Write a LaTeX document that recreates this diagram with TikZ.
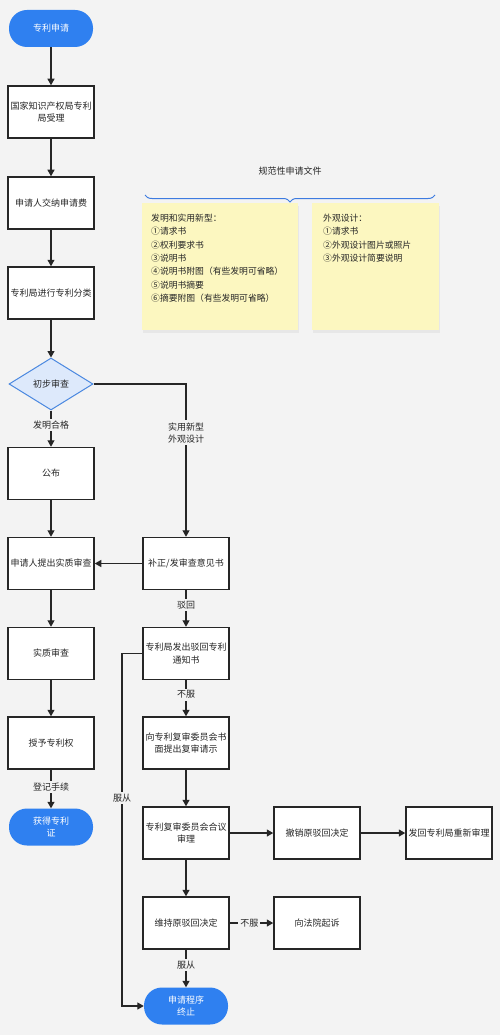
\documentclass[tikz,border=0pt]{standalone}
\usepackage{fontspec}
\setmainfont{Noto Sans CJK SC}
\usetikzlibrary{arrows.meta,shapes.geometric,decorations.pathreplacing,shadows}
\definecolor{bg}{HTML}{F3F3F3}
\definecolor{termblue}{HTML}{2F80F0}
\definecolor{diafill}{HTML}{DDE9FB}
\definecolor{diadraw}{HTML}{4A88E0}
\definecolor{notefill}{HTML}{FCF7C0}
\definecolor{bracecol}{HTML}{3D7BE0}
\begin{document}
\begin{tikzpicture}[x=1pt,y=-1pt,
  every node/.style={font=\fontsize{9}{12.5}\selectfont, text=black!85},
  box/.style={draw=black!85, line width=1.5pt, fill=white, minimum width=86pt, minimum height=52pt, inner sep=1pt, align=center},
  term/.style={fill=termblue, rounded corners=18pt, minimum width=84pt, minimum height=37pt, align=center, text=white, inner sep=1pt},
  dia/.style={diamond, draw=diadraw, line width=1pt, fill=diafill, aspect=1.6, minimum width=84pt, minimum height=52pt, inner sep=0pt},
  note/.style={fill=notefill, minimum height=127pt, inner sep=0pt, drop shadow={opacity=0.1, shadow xshift=1pt, shadow yshift=-3pt}},
  notetext/.style={font=\fontsize{8.8}{13.3}\selectfont, align=left, anchor=north west, inner sep=0pt},
  lab/.style={fill=bg, inner sep=2pt, align=center},
  arr/.style={draw=black!85, line width=1.2pt, -{Triangle[length=6.5pt,width=7pt]}},
  ln/.style={draw=black!85, line width=1.2pt}
]
\fill[bg] (0,0) rectangle (500,1035);
\useasboundingbox (0,0) rectangle (500,1035);

% left column
\node[term] (start) at (51,28.5) {专利申请};
\node[box] (b1) at (51,112) {国家知识产权局专利\\局受理};
\node[box] (b2) at (51,203) {申请人交纳申请费};
\node[box] (b3) at (51,293) {专利局进行专利分类};
\node[dia] (d) at (51,384) {初步审查};
\node[box] (pub) at (51,473.5) {公布};
\node[box] (sub) at (51,563.5) {申请人提出实质审查};
\node[box] (exam) at (51,653.5) {实质审查};
\node[box] (grant) at (51,743) {授予专利权};
\node[term] (cert) at (51,827) {获得专利\\证};

% right column
\node[box] (corr) at (186,563.5) {补正/发审查意见书};
\node[box] (rej) at (186,653.5) {专利局发出驳回专利\\通知书};
\node[box] (req) at (186,743) {向专利复审委员会书\\面提出复审请示};
\node[box] (hear) at (186,833) {专利复审委员会合议\\审理};
\node[box] (revoke) at (317,833) {撤销原驳回决定};
\node[box] (remand) at (449,833) {发回专利局重新审理};
\node[box] (keep) at (186,923) {维持原驳回决定};
\node[box] (court) at (317,923) {向法院起诉};
\node[term] (endt) at (186,1006) {申请程序\\终止};

% notes
\node (title) at (290,171) {规范性申请文件};
\coordinate (brL) at (145,195);
\coordinate (brR) at (435,195);
\draw[bracecol, line width=1pt, decorate, decoration={brace, amplitude=7pt, mirror}] (brL) -- (brR);
\node[note, minimum width=156pt, anchor=north west] (n1) at (142,203) {};
\node[note, minimum width=127pt, anchor=north west] (n2) at (312,203) {};
\node[notetext] (t1) at ([xshift=9pt,yshift=-11pt]n1.north west) {发明和实用新型：\\①请求书\\②权利要求书\\③说明书\\④说明书附图（有些发明可省略）\\⑤说明书摘要\\⑥摘要附图（有些发明可省略）};
\node[notetext] (t2) at ([xshift=11pt,yshift=-11pt]n2.north west) {外观设计：\\①请求书\\②外观设计图片或照片\\③外观设计简要说明};

% connectors
\draw[arr] (start) -- (b1);
\draw[arr] (b1) -- (b2);
\draw[arr] (b2) -- (b3);
\draw[arr] (b3) -- (d);
\draw[arr] (d) -- node[lab, pos=0.4] (l1) {发明合格} (pub);
\draw[arr] (d.east) -| node[lab, pos=0.66] (l2) {实用新型\\外观设计} (corr.north);
\draw[arr] (pub) -- (sub);
\draw[arr] (corr) -- (sub);
\draw[arr] (sub) -- (exam);
\draw[arr] (exam) -- (grant);
\draw[arr] (grant) -- node[lab, pos=0.45] (l3) {登记手续} (cert);
\draw[arr] (corr) -- node[lab, pos=0.4] (l4) {驳回} (rej);
\draw[arr] (rej) -- node[lab, pos=0.4] (l5) {不服} (req);
\draw[arr] (req) -- (hear);
\draw[arr] (hear) -- (revoke);
\draw[arr] (revoke) -- (remand);
\draw[arr] (hear) -- (keep);
\draw[arr] (keep) -- node[lab, pos=0.45] (l6) {不服} (court);
\draw[arr] (keep) -- node[lab, pos=0.4] (l7) {服从} (endt);
\coordinate (c1) at (122,653.5);
\coordinate (c2) at (122,1006);
\draw[arr] (rej.west) -- (c1) -- node[lab, pos=0.41] (l8) {服从} (c2) -- (endt.west);
\end{tikzpicture}
\end{document}
